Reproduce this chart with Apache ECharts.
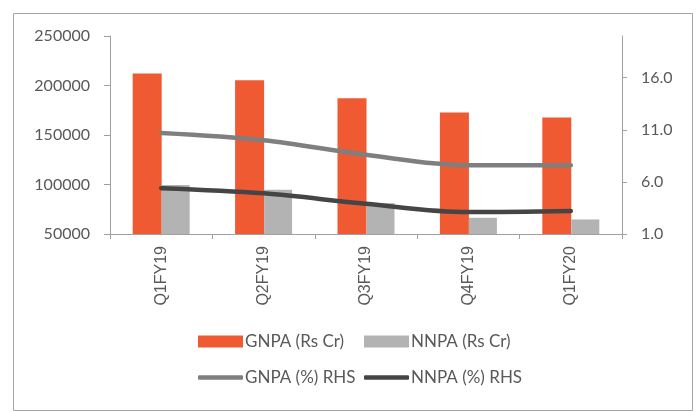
<!DOCTYPE html>
<html>
<head>
<meta charset="utf-8">
<script src="https://cdn.jsdelivr.net/npm/echarts@6/dist/echarts.min.js"></script>
<style>
  html, body { margin: 0; padding: 0; background: #fff; }
  #chart { width: 697px; height: 412px; }
</style>
</head>
<body>
<div id="chart"></div>
<script>
// Quarterly asset quality: gross / net NPA amounts and ratios
const quarters = ['Q1FY19', 'Q2FY19', 'Q3FY19', 'Q4FY19', 'Q1FY20'];
const gnpaAmount = [212000, 205400, 187100, 172700, 167600];
const nnpaAmount = [99400, 94700, 81200, 66400, 64700];
const gnpaPct = [10.7, 10.0, 8.6, 7.6, 7.6];
const nnpaPct = [5.4, 4.9, 3.9, 3.1, 3.2];

const leftTicks = { min: 50000, max: 250000, step: 50000 };
const rightTicks = { min: 1, max: 20, step: 5 };

const labelFont = 'Lato, "Open Sans", sans-serif';
const textGrey = '#595959';
const axisGrey = '#a0a0a0';

const chart = echarts.init(document.getElementById('chart'), null, { renderer: 'canvas' });

function legendItem(name, left, top, isLine) {
  return {
    data: [name],
    left: left,
    top: top,
    icon: isLine ? 'roundRect' : 'rect',
    itemWidth: 45,
    itemHeight: isLine ? 4.5 : 12,
    itemGap: 0,
    selectedMode: false,
    textStyle: { fontFamily: labelFont, fontSize: 17, color: textGrey, padding: [0, 0, 0, -3] }
  };
}

chart.setOption({
  animation: false,
  backgroundColor: '#ffffff',
  graphic: [{
    type: 'rect',
    shape: { x: 13.5, y: 13.5, width: 679, height: 397 },
    style: { fill: 'none', stroke: '#a6a6a6', lineWidth: 1 },
    silent: true,
    z: -1
  }],
  grid: { left: 110, right: 75, top: 36, bottom: 178, containLabel: false },
  legend: [
    legendItem('GNPA (Rs Cr)', 193, 328, false),
    legendItem('NNPA (Rs Cr)', 359, 328, false),
    legendItem('GNPA (%) RHS', 193, 364, true),
    legendItem('NNPA (%) RHS', 359, 364, true)
  ],
  xAxis: {
    type: 'category',
    data: quarters,
    boundaryGap: true,
    axisLine: { lineStyle: { color: axisGrey, width: 1 } },
    axisTick: { show: true, length: 5, alignWithLabel: false, lineStyle: { color: axisGrey } },
    axisLabel: {
      rotate: 90,
      margin: 12,
      fontFamily: 'Liberation Sans, Arial, sans-serif',
      fontSize: 16,
      color: textGrey
    }
  },
  yAxis: [{
    type: 'value',
    position: 'left',
    min: leftTicks.min,
    max: leftTicks.max,
    interval: leftTicks.step,
    splitLine: { show: false },
    axisLine: { show: true, lineStyle: { color: axisGrey, width: 1 } },
    axisTick: { show: true, length: 6, lineStyle: { color: axisGrey } },
    axisLabel: {
      margin: 20,
      fontFamily: labelFont,
      fontSize: 16,
      color: textGrey,
      formatter: v => String(v)
    }
  }, {
    type: 'value',
    position: 'right',
    min: rightTicks.min,
    max: rightTicks.max,
    interval: rightTicks.step,
    splitLine: { show: false },
    axisLine: { show: true, lineStyle: { color: axisGrey, width: 1 } },
    axisTick: { show: true, length: 5, lineStyle: { color: axisGrey } },
    axisLabel: {
      margin: 19,
      showMaxLabel: false,
      fontFamily: labelFont,
      fontSize: 16,
      color: textGrey,
      formatter: v => v.toFixed(1)
    }
  }],
  series: [{
    name: 'GNPA (Rs Cr)',
    type: 'bar',
    yAxisIndex: 0,
    data: gnpaAmount,
    barWidth: 29,
    barGap: '0%',
    itemStyle: { color: '#f05a32' }
  }, {
    name: 'NNPA (Rs Cr)',
    type: 'bar',
    yAxisIndex: 0,
    data: nnpaAmount,
    barWidth: 28,
    itemStyle: { color: '#b3b3b3' }
  }, {
    name: 'GNPA (%) RHS',
    type: 'line',
    yAxisIndex: 1,
    data: gnpaPct,
    smooth: 0.35,
    symbol: 'none',
    lineStyle: { color: '#7f7f7f', width: 4.5, cap: 'round' },
    itemStyle: { color: '#7f7f7f' }
  }, {
    name: 'NNPA (%) RHS',
    type: 'line',
    yAxisIndex: 1,
    data: nnpaPct,
    smooth: 0.35,
    symbol: 'none',
    lineStyle: { color: '#454545', width: 4.5, cap: 'round' },
    itemStyle: { color: '#454545' }
  }]
});
</script>
</body>
</html>
